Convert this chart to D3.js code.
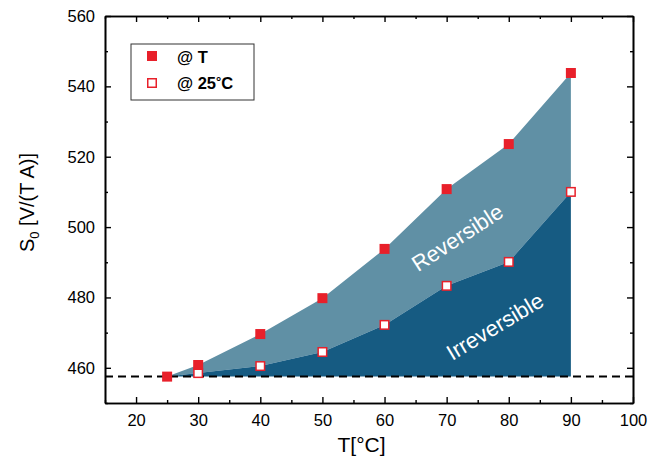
<!DOCTYPE html>
<html>
<head>
<meta charset="utf-8">
<script src="https://cdn.jsdelivr.net/npm/d3@7"></script>
<style>
  body { margin: 0; background: #fff; }
  text { font-family: Arial, "Liberation Sans", sans-serif; }
</style>
</head>
<body>
<div id="chart"></div>
<script>
// data
const temps = [25, 30, 40, 50, 60, 70, 80, 90];
const atT = [457.5, 460.8, 469.6, 479.8, 493.8, 510.8, 523.6, 543.8];
const at25 = [457.5, 458.5, 460.5, 464.5, 472.2, 483.3, 490.1, 510.0];
const baseline = 457.5;
const xTicks = [20, 30, 40, 50, 60, 70, 80, 90, 100];
const yTicks = [460, 480, 500, 520, 540, 560];

function chart() {
  let width = 657, height = 458;
  let margin = { top: 16, right: 24, bottom: 55, left: 105 };

  let svg = d3.select("#chart").append("svg")
    .attr("width", width)
    .attr("height", height);

  let x = d3.scaleLinear().domain([15, 100]).range([margin.left, width - margin.right]);
  let y = d3.scaleLinear().domain([450, 560]).range([height - margin.bottom, margin.top]);

  let rows = temps.map((t, i) => ({ t: t, hi: atT[i], lo: at25[i] }));

  // reversible band (between @T and @25°C)
  svg.append("path")
    .datum(rows)
    .attr("fill", "#6090a5")
    .attr("d", d3.area().x(d => x(d.t)).y0(d => y(d.lo)).y1(d => y(d.hi)));

  // irreversible band (between @25°C and baseline)
  svg.append("path")
    .datum(rows)
    .attr("fill", "#165b82")
    .attr("d", d3.area().x(d => x(d.t)).y0(y(baseline)).y1(d => y(d.lo)));

  // region labels
  svg.append("text")
    .attr("transform", `translate(${x(72.4)},${y(495.2)}) rotate(-33)`)
    .attr("text-anchor", "middle")
    .attr("fill", "#fff")
    .attr("font-size", 22)
    .text("Reversible");
  svg.append("text")
    .attr("transform", `translate(${x(78.4)},${y(469.9)}) rotate(-31)`)
    .attr("text-anchor", "middle")
    .attr("fill", "#fff")
    .attr("font-size", 22)
    .text("Irreversible");

  // dashed baseline
  svg.append("line")
    .attr("x1", x(15)).attr("x2", x(100))
    .attr("y1", y(baseline)).attr("y2", y(baseline))
    .attr("stroke", "#000")
    .attr("stroke-width", 2)
    .attr("stroke-dasharray", "8,5");

  // axes with inward ticks on all four sides
  let xMinor = d3.range(15, 101, 5).filter(v => v % 10 !== 0);
  let yMinor = d3.range(450, 561, 10).filter(v => v % 20 !== 0);

  svg.append("g")
    .attr("transform", `translate(0,${y(450)})`)
    .call(d3.axisBottom(x).tickValues(xTicks).tickSizeInner(-6).tickSizeOuter(0).tickPadding(11));
  svg.append("g")
    .attr("transform", `translate(0,${y(450)})`)
    .call(d3.axisBottom(x).tickValues(xMinor).tickSizeInner(-3).tickSizeOuter(0).tickFormat(""));
  svg.append("g")
    .attr("transform", `translate(0,${y(560)})`)
    .call(d3.axisTop(x).tickValues(xTicks).tickSizeInner(-6).tickSizeOuter(0).tickFormat(""));
  svg.append("g")
    .attr("transform", `translate(0,${y(560)})`)
    .call(d3.axisTop(x).tickValues(xMinor).tickSizeInner(-3).tickSizeOuter(0).tickFormat(""));

  svg.append("g")
    .attr("transform", `translate(${x(15)},0)`)
    .call(d3.axisLeft(y).tickValues(yTicks).tickSizeInner(-6).tickSizeOuter(0).tickPadding(10));
  svg.append("g")
    .attr("transform", `translate(${x(15)},0)`)
    .call(d3.axisLeft(y).tickValues(yMinor).tickSizeInner(-3).tickSizeOuter(0).tickFormat(""));
  svg.append("g")
    .attr("transform", `translate(${x(100)},0)`)
    .call(d3.axisRight(y).tickValues(yTicks).tickSizeInner(-6).tickSizeOuter(0).tickFormat(""));
  svg.append("g")
    .attr("transform", `translate(${x(100)},0)`)
    .call(d3.axisRight(y).tickValues(yMinor).tickSizeInner(-3).tickSizeOuter(0).tickFormat(""));

  svg.selectAll(".domain").attr("stroke", "#000").attr("stroke-width", 1.6);
  svg.selectAll(".tick line").attr("stroke", "#000").attr("stroke-width", 1.4);
  svg.selectAll(".tick text")
    .attr("font-family", "Arial, 'Liberation Sans', sans-serif")
    .attr("font-size", 16.5)
    .attr("fill", "#000");

  // markers
  const sz = 10;
  svg.selectAll(".m25")
    .data(rows.slice(1))
    .enter().append("rect")
    .attr("x", d => x(d.t) - sz / 2 + 0.75)
    .attr("y", d => y(d.lo) - sz / 2 + 0.75)
    .attr("width", sz - 1.5).attr("height", sz - 1.5)
    .attr("fill", "#fff")
    .attr("stroke", "#e8202a")
    .attr("stroke-width", 1.5);
  svg.selectAll(".mT")
    .data(rows)
    .enter().append("rect")
    .attr("x", d => x(d.t) - sz / 2)
    .attr("y", d => y(d.hi) - sz / 2)
    .attr("width", sz).attr("height", sz)
    .attr("fill", "#e8202a");

  // axis titles
  svg.append("text")
    .attr("x", x(56.3))
    .attr("y", 452)
    .attr("text-anchor", "middle")
    .attr("font-size", 21)
    .text("T[°C]");

  let yt = svg.append("text")
    .attr("transform", `translate(34,${y(507)}) rotate(-90)`)
    .attr("text-anchor", "middle")
    .attr("font-size", 20);
  yt.append("tspan").text("S");
  yt.append("tspan").attr("font-size", 13).attr("dy", 5).text("0");
  yt.append("tspan").attr("dy", -5).text(" [V/(T A)]");

  // legend
  let lg = svg.append("g").attr("transform", "translate(131,44)");
  lg.append("rect")
    .attr("width", 123).attr("height", 56)
    .attr("fill", "#fff")
    .attr("stroke", "#333")
    .attr("stroke-width", 1);
  lg.append("rect")
    .attr("x", 16).attr("y", 7).attr("width", sz).attr("height", sz)
    .attr("fill", "#e8202a");
  lg.append("rect")
    .attr("x", 16.75).attr("y", 34.75).attr("width", sz - 1.5).attr("height", sz - 1.5)
    .attr("fill", "#fff").attr("stroke", "#e8202a").attr("stroke-width", 1.5);
  lg.append("text")
    .attr("x", 46).attr("y", 19)
    .attr("font-size", 16.5).attr("font-weight", "bold")
    .text("@ T");
  let l2 = lg.append("text")
    .attr("x", 46).attr("y", 45)
    .attr("font-size", 16.5).attr("font-weight", "bold");
  l2.append("tspan").text("@ 25");
  l2.append("tspan").attr("font-size", 13).attr("dy", -3).text("°");
  l2.append("tspan").attr("dy", 3).text("C");
}

chart();
</script>
</body>
</html>
